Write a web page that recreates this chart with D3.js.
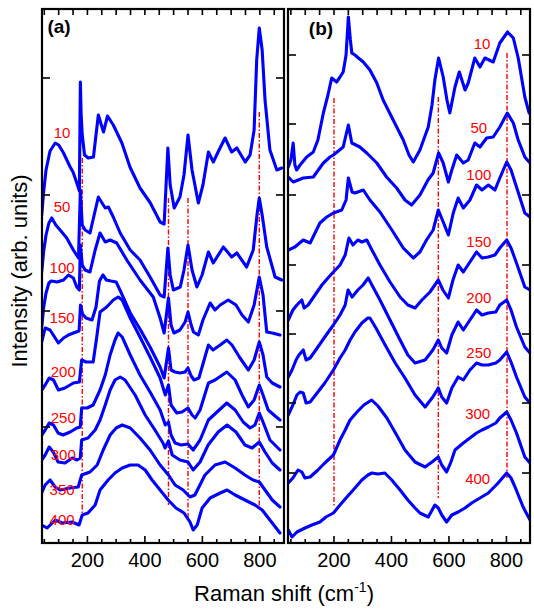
<!DOCTYPE html>
<html><head><meta charset="utf-8">
<script src="https://cdn.jsdelivr.net/npm/d3@7"></script>
<style>body{margin:0;background:#fff}svg{display:block}</style>
</head><body><svg id="chart" width="534" height="610"></svg>
<script>
// ---------- data (Raman shift in cm-1, intensity in arbitrary units) ----------
const xTicks = [200, 400, 600, 800];
const xMinorStep = 50;
const yTicksA = [116, 232, 348, 465];
const yTicksB = [70, 140, 209, 278, 348, 419, 488];

const labelsA = ["10","50","100","150","200","250","300","350","400"];
const labelsB = ["10","50","100","150","200","250","300","400"];
const labelShiftA = [112,112,112,112,116,116,116,112,112];
const labelValA = [411,337,276,226,172,126,89,54,24];
const labelShiftB = [715,704,704,704,704,704,700,700];
const labelValB = [500,416,369,302,246,191,130,65];

const refShiftA = [182, 482, 550, 798];
const refTopA = [385, 345, 345, 431];
const refBotA = [26, 38, 23, 35];
const refShiftB = [200, 563, 802];
const refTopB = [445, 446, 490];
const refBotB = [36, 45, 65];

// panel (a)
const a10 = [[41,328],[48,352],[56,373],[70,392],[88,400],[100,398],[117,390],[130,382],[140,376],[150,371],[163,360],[172,352],[175.5,461],[178,430],[182,408],[190,388],[203,385],[221,386],[238,428],[256,411],[270,427],[290,418],[320,400],[348,376],[383,355],[419,340],[453,321],[467,319],[480,395],[488,358],[502,335],[522,346],[536,368],[550,408],[564,373],[586,340],[602,358],[621,391],[638,381],[658,393],[679,405],[702,391],[720,395],[749,381],[766,388],[780,413],[789,483],[798,515],[808,493],[818,443],[835,393],[859,373],[876,375]];
const a50 = [[41,271],[48,292],[56,308],[66,320],[76,325],[90,318],[105,313],[128,305],[151,293],[169,285],[175.5,353],[182,318],[192,313],[209,310],[238,346],[262,335],[273,336],[290,326],[314,310],[349,293],[383,283],[418,266],[453,248],[467,246],[480,295],[488,268],[499,253],[523,256],[536,273],[550,298],[564,273],[581,256],[599,268],[621,291],[638,280],[673,296],[702,286],[720,290],[754,276],[777,293],[790,328],[798,345],[808,328],[824,296],[853,266],[876,263]];
const a100 = [[41,216],[48,236],[56,250],[66,260],[74,262],[95,261],[117,263],[134,268],[151,265],[163,256],[172,253],[175.5,298],[182,278],[192,273],[209,271],[227,293],[244,310],[262,301],[279,303],[302,300],[337,283],[383,263],[429,246],[453,225],[467,210],[482,245],[491,218],[501,210],[522,213],[540,221],[550,231],[561,218],[569,211],[586,208],[602,223],[627,240],[644,233],[662,238],[690,243],[717,238],[738,228],[760,221],[780,238],[798,266],[811,248],[824,211],[843,210],[870,208]];
const a150 = [[41,201],[53,215],[70,213],[88,205],[99,200],[117,205],[134,208],[151,210],[171,212],[176,238],[183,229],[195,225],[216,223],[230,236],[242,262],[254,268],[266,263],[282,262],[300,261],[318,250],[349,230],[383,214],[418,196],[453,176],[467,165],[482,195],[491,173],[505,171],[522,170],[540,171],[550,175],[561,167],[571,163],[588,165],[606,183],[621,198],[637,193],[662,198],[685,203],[703,198],[731,185],[760,173],[780,183],[798,201],[811,188],[824,166],[843,160],[870,156]];
const a200 = [[41,153],[53,158],[67,165],[82,163],[99,153],[122,155],[151,160],[172,161],[180,183],[195,181],[220,181],[232,205],[244,231],[267,236],[290,243],[307,246],[321,243],[349,225],[383,206],[418,186],[453,165],[471,148],[482,158],[491,138],[511,130],[529,131],[550,135],[564,128],[575,125],[592,133],[621,160],[644,163],[685,171],[714,163],[738,148],[760,136],[780,143],[798,158],[811,148],[829,133],[853,127],[870,123]];
const a250 = [[41,108],[53,113],[67,120],[82,118],[98,110],[115,108],[140,111],[163,115],[175,116],[180,135],[199,135],[220,138],[244,153],[262,168],[279,188],[296,203],[307,210],[321,206],[349,188],[383,168],[418,151],[453,133],[471,118],[482,121],[491,108],[505,100],[526,98],[550,99],[568,93],[592,103],[621,123],[651,131],[685,140],[714,133],[742,121],[766,115],[783,118],[798,130],[811,121],[835,103],[870,93]];
const a300 = [[41,83],[53,88],[67,96],[81,91],[98,81],[122,80],[147,85],[164,83],[175,85],[180,103],[202,105],[227,113],[244,123],[262,138],[279,153],[296,163],[314,166],[331,163],[366,148],[401,128],[435,113],[463,100],[470,95],[482,102],[495,88],[522,83],[550,81],[568,73],[592,81],[620,98],[655,111],[686,118],[717,111],[748,98],[773,95],[798,101],[818,91],[843,80],[870,73]];
const a350 = [[41,50],[53,58],[70,63],[88,56],[105,53],[140,55],[168,56],[180,68],[209,71],[234,78],[255,93],[279,108],[300,115],[321,118],[349,115],[383,105],[418,93],[453,78],[482,68],[505,58],[533,53],[557,46],[574,48],[609,68],[644,78],[679,81],[714,75],[748,68],[776,63],[798,61],[818,53],[843,43],[870,36]];
const a400 = [[41,18],[60,15],[88,23],[112,20],[147,21],[171,18],[182,28],[202,30],[227,38],[244,53],[272,63],[296,70],[321,75],[349,78],[376,78],[401,73],[425,63],[453,53],[481,43],[508,35],[536,30],[557,21],[568,13],[582,18],[599,35],[627,45],[662,50],[686,53],[714,48],[748,43],[783,38],[808,33],[835,23],[870,10]];

// panel (b)
const b10 = [[41,376],[50,383],[58,400],[64,378],[70,373],[82,378],[105,386],[128,391],[144,403],[163,430],[179,448],[192,465],[209,461],[221,466],[232,471],[242,488],[250,526],[257,503],[262,490],[273,488],[285,485],[302,481],[325,473],[349,460],[371,443],[406,423],[441,403],[461,388],[476,381],[499,393],[528,416],[541,438],[551,463],[564,485],[580,466],[593,443],[603,430],[621,456],[636,471],[656,453],[667,460],[690,485],[708,476],[725,485],[754,481],[777,500],[804,511],[824,505],[841,485],[864,446],[879,430]];
const b50 = [[41,366],[58,361],[93,365],[128,366],[163,380],[186,386],[198,388],[232,396],[250,418],[262,400],[290,396],[314,390],[349,380],[383,366],[418,355],[447,343],[470,338],[499,348],[527,363],[545,370],[564,390],[580,380],[598,361],[610,373],[627,388],[650,380],[667,383],[690,400],[708,396],[731,405],[754,406],[777,416],[803,430],[824,420],[841,403],[864,386],[879,381]];
const b100 = [[41,293],[64,296],[93,303],[117,300],[151,320],[175,326],[198,330],[227,333],[242,343],[250,365],[263,351],[273,350],[302,353],[325,343],[360,331],[406,311],[441,295],[476,285],[499,291],[522,303],[545,313],[563,333],[580,321],[598,308],[615,330],[632,345],[650,335],[673,343],[696,358],[715,353],[737,358],[760,353],[777,365],[801,381],[816,373],[835,356],[864,330],[882,326]];
const b150 = [[41,223],[57,233],[71,238],[88,243],[96,235],[110,238],[134,248],[158,258],[179,265],[198,271],[221,278],[239,288],[252,305],[266,298],[283,303],[297,301],[314,303],[332,293],[360,278],[395,261],[430,246],[457,238],[482,235],[506,243],[534,251],[563,263],[579,253],[598,245],[614,263],[632,278],[650,271],[673,281],[696,291],[715,285],[737,286],[760,288],[777,295],[801,303],[816,295],[835,280],[864,256],[882,253]];
const b200 = [[41,166],[54,173],[68,183],[78,188],[93,193],[103,183],[117,185],[144,196],[168,206],[198,218],[221,228],[239,238],[249,253],[263,246],[283,253],[301,258],[319,265],[332,258],[360,243],[395,223],[430,203],[457,188],[482,180],[517,183],[544,193],[563,203],[575,195],[592,190],[610,208],[632,221],[650,213],[673,223],[696,233],[715,228],[737,230],[763,231],[777,238],[801,243],[816,233],[835,216],[864,196],[882,190]];
const b250 = [[41,128],[57,138],[71,148],[82,151],[93,150],[103,140],[117,141],[144,151],[168,160],[198,173],[221,185],[239,193],[256,203],[273,211],[297,220],[318,225],[325,225],[346,215],[378,198],[413,180],[447,165],[482,148],[517,136],[544,146],[563,155],[575,146],[592,140],[610,155],[632,166],[650,163],[673,173],[696,180],[715,178],[737,178],[763,180],[777,183],[801,191],[816,181],[835,166],[864,146],[882,140]];
const b300 = [[41,60],[57,65],[75,73],[88,71],[99,65],[117,66],[144,73],[168,80],[198,88],[221,103],[239,113],[256,123],[280,131],[304,138],[331,143],[353,137],[384,125],[412,111],[447,93],[482,81],[517,76],[541,81],[563,86],[575,78],[592,71],[607,81],[621,93],[650,100],[673,105],[696,110],[715,113],[737,116],[763,120],[777,125],[801,131],[816,123],[835,110],[864,86],[882,80]];
const b400 = [[41,13],[54,6],[71,11],[99,15],[123,18],[151,21],[172,26],[198,30],[221,38],[245,46],[273,55],[297,63],[318,68],[332,70],[353,69],[377,70],[401,63],[430,53],[457,43],[482,35],[499,30],[528,26],[551,38],[563,35],[575,28],[592,21],[610,28],[632,31],[656,35],[679,40],[708,45],[737,50],[771,60],[801,70],[816,65],[830,56],[858,36],[882,23]];

const seriesA = [a10, a50, a100, a150, a200, a250, a300, a350, a400];
const seriesB = [b10, b50, b100, b150, b200, b250, b300, b400];

// ---------- drawing ----------
const FONT = "Liberation Sans, Arial, Helvetica, sans-serif";
const svg = d3.select("#chart");
const plotTop = 9, plotBottom = 543;
const yScale = d3.scaleLinear().domain([0, 534]).range([plotBottom, plotTop]);

const panels = [
  {id:"a", left:42, right:284, domain:[42,884], series:seriesA, labels:labelsA, lx:labelShiftA, ly:labelValA,
   refX:refShiftA, refT:refTopA, refB:refBotA, yTicks:yTicksA, tag:"(a)", tagX:59, tagY:33},
  {id:"b", left:288, right:530, domain:[40,882], series:seriesB, labels:labelsB, lx:labelShiftB, ly:labelValB,
   refX:refShiftB, refT:refTopB, refB:refBotB, yTicks:yTicksB, tag:"(b)", tagX:321, tagY:35}
];

const defs = svg.append("defs");

panels.forEach(p => {
  const x = d3.scaleLinear().domain(p.domain).range([p.left, p.right]);
  const g = svg.append("g").attr("class", "panel-" + p.id);
  defs.append("clipPath").attr("id", "clip-" + p.id)
    .append("rect").attr("x", p.left).attr("y", plotTop)
    .attr("width", p.right - p.left).attr("height", plotBottom - plotTop);

  const plot = g.append("g").attr("clip-path", `url(#clip-${p.id})`);

  plot.selectAll("line.ref").data(p.refX).join("line")
    .attr("class", "ref")
    .attr("x1", d => x(d)).attr("x2", d => x(d))
    .attr("y1", (d, i) => yScale(p.refT[i])).attr("y2", (d, i) => yScale(p.refB[i]))
    .attr("stroke", "#ff0000").attr("stroke-width", 1.4)
    .attr("stroke-dasharray", "5,2,1.5,2");

  const line = d3.line().x(d => x(d[0])).y(d => yScale(d[1]));
  plot.selectAll("path.spec").data(p.series).join("path")
    .attr("class", "spec")
    .attr("d", line)
    .attr("fill", "none").attr("stroke", "#0000ff")
    .attr("stroke-width", 3.1).attr("stroke-linejoin", "round").attr("stroke-linecap", "round");

  g.selectAll("text.lab").data(p.labels).join("text")
    .attr("class", "lab")
    .attr("x", (d, i) => x(p.lx[i])).attr("y", (d, i) => yScale(p.ly[i]))
    .attr("text-anchor", "middle").attr("dominant-baseline", "central")
    .attr("font-family", FONT).attr("font-size", 15)
    .attr("fill", "#ff0000").text(d => d);

  const minor = d3.range(50, 900, xMinorStep).filter(v => v > p.domain[0] && v < p.domain[1]);
  const tickG = g.append("g").attr("stroke", "#000").attr("stroke-width", 1.6);
  minor.forEach(v => {
    const major = xTicks.includes(v);
    const len = major ? 7 : 4;
    tickG.append("line").attr("x1", x(v)).attr("x2", x(v)).attr("y1", plotBottom).attr("y2", plotBottom - len);
    tickG.append("line").attr("x1", x(v)).attr("x2", x(v)).attr("y1", plotTop).attr("y2", plotTop + 6);
  });
  p.yTicks.forEach(v => {
    tickG.append("line").attr("x1", p.left).attr("x2", p.left + 8).attr("y1", yScale(v)).attr("y2", yScale(v));
    tickG.append("line").attr("x1", p.right).attr("x2", p.right - 8).attr("y1", yScale(v)).attr("y2", yScale(v));
  });

  g.selectAll("text.xt").data(xTicks).join("text")
    .attr("class", "xt")
    .attr("x", d => x(d)).attr("y", 567)
    .attr("text-anchor", "middle")
    .attr("font-family", FONT).attr("font-size", 20)
    .attr("fill", "#000").text(d => d);

  g.append("rect").attr("x", p.left).attr("y", plotTop)
    .attr("width", p.right - p.left).attr("height", plotBottom - plotTop)
    .attr("fill", "none").attr("stroke", "#000").attr("stroke-width", 2.2);

  g.append("text").attr("x", p.tagX).attr("y", p.tagY)
    .attr("text-anchor", "middle").attr("font-family", FONT)
    .attr("font-weight", "bold").attr("font-size", 19).text(p.tag);
});

const xt = svg.append("text").attr("x", 284).attr("y", 601).attr("text-anchor", "middle")
  .attr("font-family", FONT).attr("font-size", 22);
xt.append("tspan").text("Raman shift (cm");
xt.append("tspan").attr("dy", -9).attr("font-size", 14).text("-1");
xt.append("tspan").attr("dy", 9).text(")");

svg.append("text").attr("transform", "translate(27,271) rotate(-90)")
  .attr("text-anchor", "middle").attr("font-family", FONT)
  .attr("font-size", 22).text("Intensity (arb. units)");
</script></body></html>
